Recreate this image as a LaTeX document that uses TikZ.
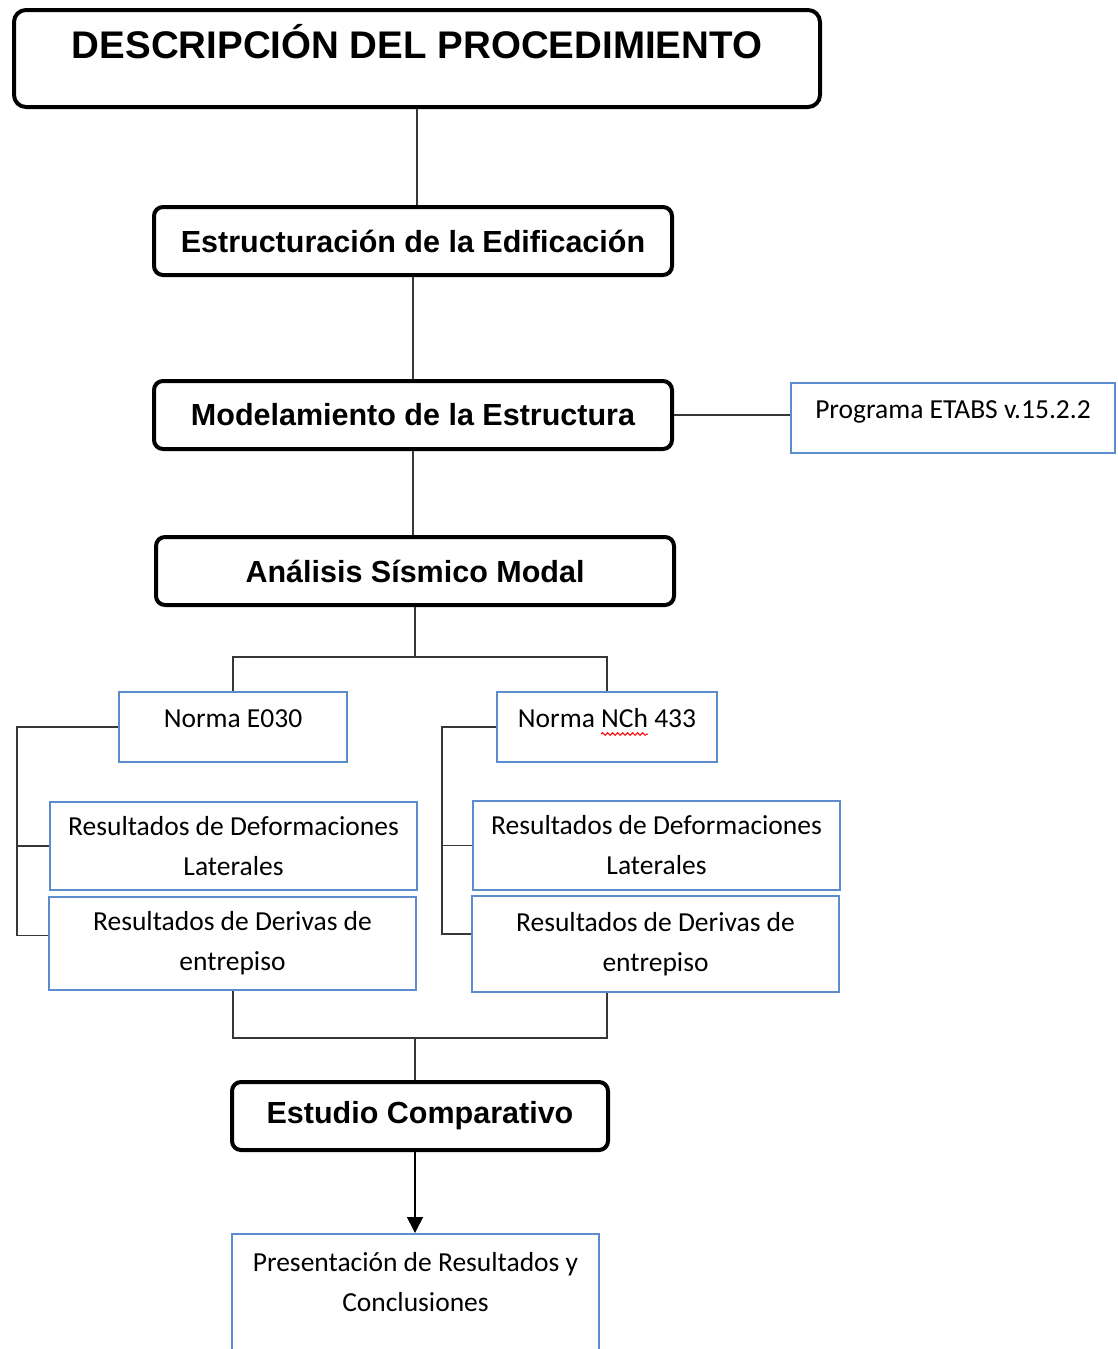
\documentclass[tikz,border=0pt]{standalone}
\definecolor{boxBlue}{RGB}{91,140,205}
\definecolor{linkGray}{RGB}{55,55,55}
\usepackage{fontspec}
\setmainfont{Carlito}
\newfontfamily\headfont{Liberation Sans}
\usepackage{tikz}
\usetikzlibrary{arrows.meta,positioning,calc,decorations.pathmorphing}

\tikzset{
  stage/.style={draw=black, line width=4pt, rounded corners=9pt, inner sep=0pt,
    minimum width=518pt, minimum height=68pt,
    font=\headfont\bfseries\fontsize{30.5}{34}\selectfont},
  infobox/.style={draw=boxBlue, line width=2pt, inner sep=0pt,
    font=\fontsize{27.5}{40}\selectfont},
  link/.style={draw=linkGray, line width=1.6pt},
}

\begin{document}
\begin{tikzpicture}[x=1pt,y=-1pt]
          \clip (0,0) rectangle (1118,1349);
          % Main column
          \node[stage, minimum width=806pt, minimum height=97pt, rounded corners=12pt,
            text height=48pt, text depth=49pt,
            font=\headfont\bfseries\fontsize{38.5}{42}\selectfont] (title) at (417,58.5) {DESCRIPCIÓN DEL PROCEDIMIENTO};
          \node[stage] (estr) at (413,241) {Estructuración de la Edificación};
          \node[stage] (model) at (413,415) {Modelamiento de la Estructura};
          \node[stage] (analisis) at (415,571) {Análisis Sísmico Modal};
          \node[stage, minimum width=376pt] (estudio) at (420,1116) {Estudio Comparativo};
          % Side box
          \node[infobox, minimum width=324pt, text height=35pt, text depth=35pt] (etabs) at (953,418) {Programa ETABS v.15.2.2};
          % Norms
          \node[infobox, minimum width=228pt, text height=35pt, text depth=35pt] (e030) at (233,727) {Norma E030};
          \node[infobox, minimum width=220pt, text height=35pt, text depth=35pt] (nch) at (607,727) {Norma NCh 433};
          \draw[red, line width=1pt, decorate, decoration={snake, amplitude=1.3pt, segment length=5pt}]
            ($(nch.center)+(-6,7)$) -- ($(nch.center)+(41,7)$);
          % Results
          \node[infobox, align=center, minimum width=367pt, minimum height=88pt] (defL) at (233.5,846) {Resultados de Deformaciones\\Laterales};
          \node[infobox, align=center, minimum width=367pt, minimum height=93pt] (derL) at (232.5,943.5) {Resultados de Derivas de\\entrepiso};
          \node[infobox, align=center, minimum width=367pt, minimum height=89pt] (defR) at (656.5,845.5) {Resultados de Deformaciones\\Laterales};
          \node[infobox, align=center, minimum width=367pt, minimum height=96pt] (derR) at (655.5,944) {Resultados de Derivas de\\entrepiso};
          % Final
          \node[infobox, align=center, minimum width=367pt, inner ysep=18pt, anchor=north] (pres) at (415.5,1233) {Presentación de Resultados y\\Conclusiones\\\mbox{}\\\mbox{}};

          % Links
          \draw[link] (title.south) -- (title.south |- estr.north);
          \draw[link] (estr.south) -- (model.north);
          \draw[link] (model.east) -- (model.east -| etabs.west);
          \draw[link] (model.south) -- (model.south |- analisis.north);
          \draw[link] (analisis.south) -- ++(0,50) coordinate (split);
          \draw[link] (e030.north) |- (split) -| (nch.north);
          \draw[link] (e030.west) -- ++(-101,0) coordinate (brL) |- ($(derL.west)+(0,-8)$);
          \draw[link] (defL.west) -- (defL.west -| brL);
          \draw[link] (nch.west) -- ++(-54,0) coordinate (brR) |- ($(derR.west)+(0,-10)$);
          \draw[link] (defR.west) -- (defR.west -| brR);
          \draw[link] (derL.south -| e030.north) -- ++(0,47) coordinate (mergeL) -| (derR.south -| nch.north);
          \draw[link] (mergeL -| analisis.south) -- (analisis.south |- estudio.north);
          \draw[link, draw=black, -{Triangle[length=16pt,width=16pt]}] (analisis.south |- estudio.south) -- (analisis.south |- pres.north);
        \end{tikzpicture}
\end{document}
